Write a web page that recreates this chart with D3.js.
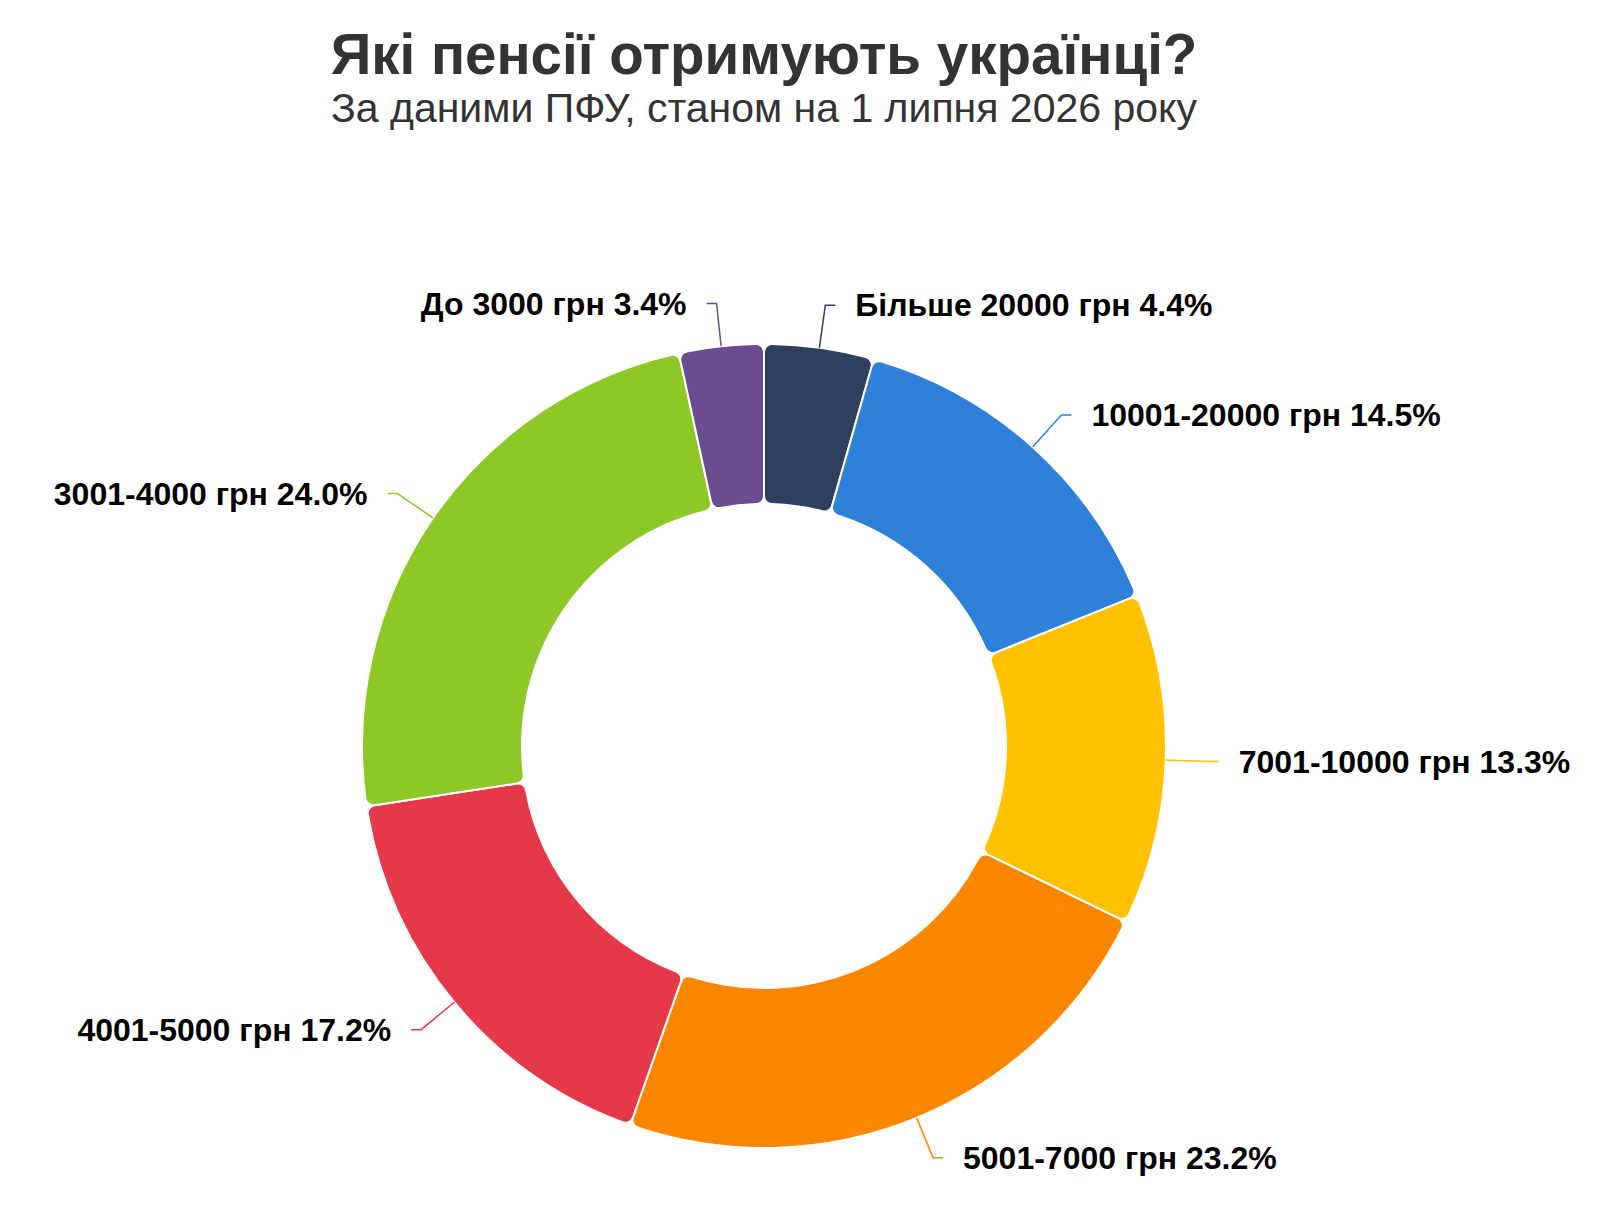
<!DOCTYPE html>
<html lang="uk">
<head>
<meta charset="utf-8">
<title>Які пенсії отримують українці?</title>
<script src="https://cdn.jsdelivr.net/npm/d3@7"></script>
<style>
  html, body { margin: 0; padding: 0; background: #fff; }
  svg { display: block; font-family: "Liberation Sans", Arial, Helvetica, sans-serif; }
</style>
</head>
<body>
<svg id="chart"></svg>
<script>
// Pension brackets, clockwise from 12 o'clock
const categories = [
  'Більше 20000 грн',
  '10001-20000 грн',
  '7001-10000 грн',
  '5001-7000 грн',
  '4001-5000 грн',
  '3001-4000 грн',
  'До 3000 грн'
];
const shares = [4.4, 14.5, 13.3, 23.2, 17.2, 24.0, 3.4];
const colors = ['#2f3f5e', '#2f80d9', '#ffc100', '#fb8600', '#e53848', '#8dc827', '#6b4c8e'];

const titleText = 'Які пенсії отримують українці?';
const subtitleText = 'За даними ПФУ, станом на 1 липня 2026 року';

const width = 1616, height = 1224;
const cx = 764, cy = 746;
const outerR = 402, innerR = 242;
const kneeR = 445;       // end of the radial part of a leader line
const tail = 10;         // horizontal part of a leader line
const textGap = 20;

const svg = d3.select('#chart')
  .attr('width', width)
  .attr('height', height);

svg.append('text')
  .attr('x', cx)
  .attr('y', 74)
  .attr('text-anchor', 'middle')
  .attr('font-size', 56.5)
  .attr('font-weight', 'bold')
  .attr('fill', '#333')
  .text(titleText);

svg.append('text')
  .attr('x', cx)
  .attr('y', 122)
  .attr('text-anchor', 'middle')
  .attr('font-size', 41)
  .attr('fill', '#333')
  .text(subtitleText);

const data = categories.map((name, i) => ({ name, value: shares[i], color: colors[i] }));

const pie = d3.pie()
  .sort(null)
  .value(d => d.value);

const arc = d3.arc()
  .innerRadius(innerR)
  .outerRadius(outerR)
  .cornerRadius(8);

const g = svg.append('g')
  .attr('transform', `translate(${cx},${cy})`);

const slices = pie(data);

g.selectAll('path.slice')
  .data(slices)
  .join('path')
  .attr('class', 'slice')
  .attr('d', arc)
  .attr('fill', d => d.data.color)
  .attr('stroke', '#fff')
  .attr('stroke-width', 2)
  .attr('stroke-linejoin', 'round');

// leader lines + labels
const midAngle = d => (d.startAngle + d.endAngle) / 2;
const polar = (r, a) => [r * Math.sin(a), -r * Math.cos(a)];

slices.forEach(d => {
  const a = midAngle(d);
  const right = a < Math.PI;
  const p0 = polar(outerR, a);
  const p1 = polar(kneeR, a);
  const p2 = [p1[0] + (right ? tail : -tail), p1[1]];

  g.append('polyline')
    .attr('points', [p0, p1, p2].map(p => p.join(',')).join(' '))
    .attr('fill', 'none')
    .attr('stroke', d.data.color)
    .attr('stroke-width', 1.5);

  g.append('text')
    .attr('x', p2[0] + (right ? textGap : -textGap))
    .attr('y', p2[1])
    .attr('dy', '0.35em')
    .attr('text-anchor', right ? 'start' : 'end')
    .attr('font-size', 32)
    .attr('font-weight', 'bold')
    .attr('fill', '#000')
    .text(`${d.data.name} ${d.data.value.toFixed(1)}%`);
});
</script>
</body>
</html>
